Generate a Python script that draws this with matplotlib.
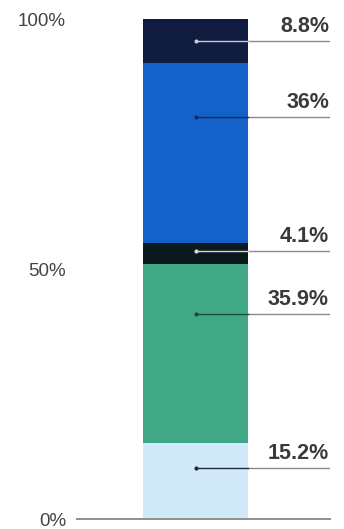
import matplotlib.pyplot as plt
import numpy as np

# segments, bottom to top
shares = [15.2, 35.9, 4.1, 36.0, 8.8]
labels = ["15.2%", "35.9%", "4.1%", "36%", "8.8%"]
colors = ["#d2e9f9", "#41a886", "#0d1a1d", "#1461c9", "#0f1c3f"]
inner_line = ["#1a2a40", "#1d4a3a", "#d8d8d8", "#1a2a50", "#c8c8d0"]
# where each callout line sits (percent height)
label_y = [10.2, 41.0, 53.6, 80.4, 95.6]
ticks = [0, 50, 100]
tick_labels = ["0%", "50%", "100%"]

fig = plt.figure(figsize=(3.44, 5.29), dpi=100)
plt.rcParams['font.family'] = ['Liberation Sans', 'DejaVu Sans']
ax = fig.add_axes([77 / 344, 10 / 529, 253 / 344, 500 / 529])

bottoms = np.concatenate([[0], np.cumsum(shares)[:-1]])
ax.bar([0] * len(shares), shares, bottom=bottoms, width=1.0, color=colors,
       linewidth=0, zorder=2)

xmin, xmax = -1.129, 1.281
for y, lab, lc in zip(label_y, labels, inner_line):
    ax.plot([0, xmax], [y, y], color="#8a8a8a", lw=1.0, zorder=1,
            solid_capstyle='butt')
    ax.plot([0, 0.5], [y, y], color=lc, lw=1.0, zorder=3)
    ax.plot([0], [y], 'o', ms=3, color=lc, mec='none', zorder=4)
    ax.annotate(lab, (xmax - 0.01, y), xytext=(0, 3), textcoords='offset points',
                ha='right', va='bottom', fontsize=15.5, fontweight='bold',
                color="#3a3a3a")

ax.axhline(0, color="#8f8f8f", lw=1.4, zorder=3, clip_on=False)
ax.set_xlim(xmin, xmax)
ax.set_ylim(0, 100)
ax.set_yticks(ticks)
ax.set_yticklabels(tick_labels)
ax.tick_params(axis='y', length=0, pad=8, labelsize=13.5, labelcolor="#444444")
ax.set_xticks([])
for s in ax.spines.values():
    s.set_visible(False)
ax.patch.set_alpha(0)

fig.savefig("out.png", dpi=100)
